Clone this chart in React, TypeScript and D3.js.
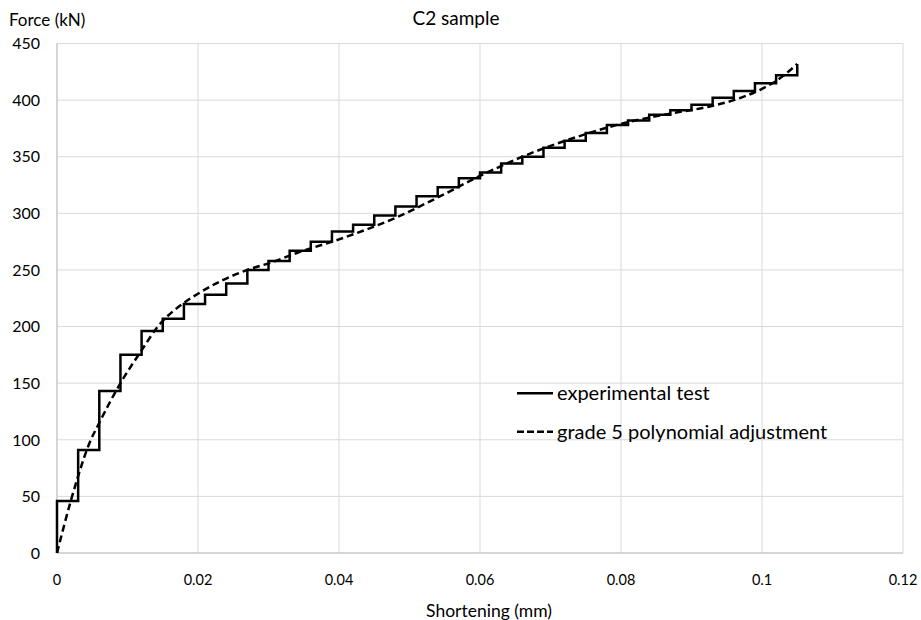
import React from "react";
import * as d3 from "d3";

// stepped test record (stepAfter: horizontal then vertical)
const shortening = [
  0, 0, 0.003, 0.006, 0.009, 0.012, 0.015, 0.018, 0.021, 0.024, 0.027, 0.03,
  0.033, 0.036, 0.039, 0.042, 0.045, 0.048, 0.051, 0.054, 0.057, 0.06, 0.063,
  0.066, 0.069, 0.072, 0.075, 0.078, 0.081, 0.084, 0.087, 0.09, 0.093, 0.096,
  0.099, 0.102, 0.105,
];
const force = [
  0, 46, 91, 143, 175, 196, 207, 220, 228, 238, 250, 258, 267, 275, 284, 290,
  298, 306, 315, 323, 331, 336, 344, 350, 358, 364, 371, 378, 382, 387, 391,
  396, 402, 408, 415, 422, 432,
];

// polynomial fit
const fitX = [
  0, 0.002, 0.003, 0.0046, 0.006, 0.009, 0.012, 0.0143, 0.0178, 0.02, 0.0235,
  0.027, 0.0306, 0.034, 0.04, 0.048, 0.054, 0.06, 0.066, 0.074, 0.08, 0.086,
  0.093, 0.096, 0.1, 0.1025, 0.105,
];
const fitY = [
  0, 47, 68, 97, 115, 150, 179, 200, 220, 229, 241, 250, 257, 265, 277, 296,
  314, 333, 350, 368, 379, 387, 395, 400, 410, 419, 432,
];

const xTicks = [0, 0.02, 0.04, 0.06, 0.08, 0.1, 0.12];
const yTicks = [0, 50, 100, 150, 200, 250, 300, 350, 400, 450];
const legendItems = ["experimental test", "grade 5 polynomial adjustment"];

const W = 921;
const H = 620;
const font = "Lato, 'Liberation Sans', sans-serif";

export default function App() {
  const x = d3.scaleLinear().domain([0, 0.12]).range([57, 903]);
  const y = d3.scaleLinear().domain([0, 450]).range([553, 43.5]);

  const stepLine = d3
    .line<number>()
    .x((d, i) => x(shortening[i]))
    .y((d) => y(d))
    .curve(d3.curveStepAfter);

  const fitLine = d3
    .line<number>()
    .x((d, i) => x(fitX[i]))
    .y((d) => y(d))
    .curve(d3.curveMonotoneX);

  return (
    <svg
      width={W}
      height={H}
      style={{ position: "absolute", left: 0, top: 0, background: "#fff" }}
      fontFamily={font}
    >
      <rect width={W} height={H} fill="#fff" />
      {/* grid */}
      {yTicks.map((t) => (
        <line key={"gy" + t} x1={x(0)} x2={x(0.12)} y1={y(t)} y2={y(t)} stroke="#d9d9d9" strokeWidth={1} />
      ))}
      {xTicks.map((t) => (
        <line key={"gx" + t} x1={x(t)} x2={x(t)} y1={y(0)} y2={y(450)} stroke="#d9d9d9" strokeWidth={1} />
      ))}
      <line x1={x(0)} x2={x(0.12)} y1={y(0)} y2={y(0)} stroke="#bfbfbf" strokeWidth={1} />
      <line x1={x(0)} x2={x(0)} y1={y(0)} y2={y(450)} stroke="#bfbfbf" strokeWidth={1} />

      {/* tick labels */}
      {yTicks.map((t) => (
        <text key={"ly" + t} x={40} y={y(t)} dy="0.36em" textAnchor="end" fontSize={16} fill="#000">
          {t}
        </text>
      ))}
      {xTicks.map((t) => (
        <text key={"lx" + t} x={x(t)} y={585} textAnchor="middle" fontSize={14.5} fill="#000">
          {String(t)}
        </text>
      ))}

      {/* series */}
      <path d={stepLine(force) || ""} fill="none" stroke="#000" strokeWidth={2.5} strokeLinejoin="miter" />
      <path d={fitLine(fitY) || ""} fill="none" stroke="#000" strokeWidth={2.5} strokeDasharray="7,4" />

      {/* titles */}
      <text x={456} y={24.5} textAnchor="middle" fontSize={19} fill="#000">C2 sample</text>
      <text x={9} y={26} fontSize={17} fill="#000">Force (kN)</text>
      <text x={489} y={617} textAnchor="middle" fontSize={17.5} fill="#000">Shortening (mm)</text>

      {/* legend */}
      {legendItems.map((name, i) => (
        <g key={name} transform={`translate(0,${393.3 + i * 38.4})`}>
          <line x1={517} x2={553} y1={0} y2={0} stroke="#000" strokeWidth={2.5} strokeDasharray={i === 1 ? "7,3" : undefined} />
          <text x={557} y={7} fontSize={20} fill="#000">{name}</text>
        </g>
      ))}
    </svg>
  );
}
